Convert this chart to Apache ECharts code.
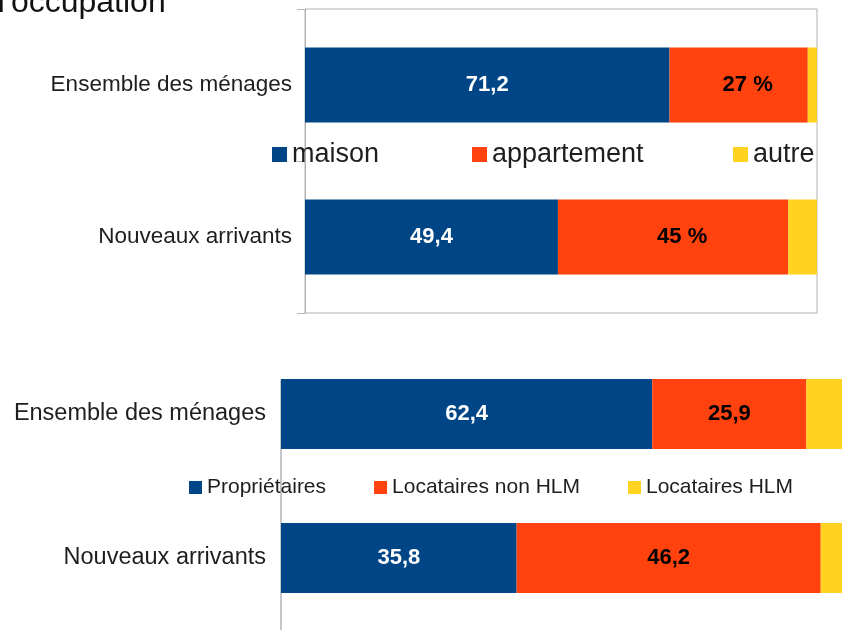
<!DOCTYPE html>
<html>
<head>
<meta charset="utf-8">
<script src="https://cdn.jsdelivr.net/npm/echarts@6/dist/echarts.min.js"></script>
<style>
html,body{margin:0;padding:0;background:#fff;}
#chart{width:842px;height:630px;}
</style>
</head>
<body>
<div id="chart"></div>
<script>
// ---- data ----
const titleText = "d'occupation";
const categories = ['Ensemble des ménages', 'Nouveaux arrivants'];

const topNames = ['maison', 'appartement', 'autre'];
const topMaison = [71.2, 49.4];
const topAppartement = [27, 45];
const topAutre = [1.8, 5.6];

const bottomNames = ['Propriétaires', 'Locataires non HLM', 'Locataires HLM'];
const bottomProprietaires = [62.4, 35.8];
const bottomNonHLM = [25.9, 46.2];
const bottomHLM = [11.7, 8.4];

// ---- styling ----
const FONT = 'Liberation Sans, Arial, sans-serif';
const C_BLUE = '#004586', C_ORANGE = '#ff420e', C_YELLOW = '#ffd320';
const GRAY = '#b3b3b3';
const TXT = '#1e1e1e';

function fmtNum(v) { return String(v).replace('.', ','); }

// bottom chart is a 100% stacked chart: normalise each bar by its total
const bottomTotals = categories.map((_, i) => bottomProprietaires[i] + bottomNonHLM[i] + bottomHLM[i]);
function norm(arr) {
  return arr.map((v, i) => ({ value: v / bottomTotals[i] * 100, raw: v }));
}

const chart = echarts.init(document.getElementById('chart'), null, { renderer: 'canvas' });

const labelBase = { show: true, position: 'inside', fontFamily: FONT, fontWeight: 'bold', fontSize: 22 };

const option = {
  animation: false,
  backgroundColor: '#ffffff',
  textStyle: { fontFamily: FONT },
  graphic: [
    { type: 'text', left: -13, top: -13, style: { text: titleText, fontSize: 32, fontFamily: FONT, fill: '#111' } }
  ],
  grid: [
    { left: 305, top: 9, width: 512, height: 304, show: true, borderColor: GRAY, borderWidth: 1, backgroundColor: 'transparent', containLabel: false, outerBoundsMode: 'none' },
    { left: 281, top: 342, width: 595, height: 288, containLabel: false, outerBoundsMode: 'none' },
    { left: 281, top: 380, width: 10, height: 260, containLabel: false, outerBoundsMode: 'none' }
  ],
  xAxis: [
    { gridIndex: 0, type: 'value', min: 0, max: 100, show: false },
    { gridIndex: 1, type: 'value', min: 0, max: 100, show: false },
    { gridIndex: 2, type: 'value', min: 0, max: 1, show: false }
  ],
  yAxis: [
    { gridIndex: 0, type: 'category', inverse: true, data: categories,
      axisLine: { show: true, lineStyle: { color: GRAY, width: 1 } },
      axisTick: { show: true, length: 8, lineStyle: { color: GRAY } },
      axisLabel: { fontSize: 22.5, color: TXT, margin: 13, fontFamily: FONT },
      splitLine: { show: false } },
    { gridIndex: 1, type: 'category', inverse: true, data: categories,
      axisLine: { show: false },
      axisTick: { show: false },
      axisLabel: { fontSize: 23.5, color: TXT, margin: 15, fontFamily: FONT },
      splitLine: { show: false } },
    { gridIndex: 2, type: 'value', min: 0, max: 1,
      axisLine: { show: true, onZero: false, lineStyle: { color: GRAY, width: 1.5 } },
      axisTick: { show: false }, axisLabel: { show: false }, splitLine: { show: false } }
  ],
  legend: [
    { data: [topNames[0]], left: 272, top: 141, icon: 'rect', itemWidth: 15, itemHeight: 15, padding: 0,
      textStyle: { fontSize: 27, color: TXT, fontFamily: FONT } },
    { data: [topNames[1]], left: 472, top: 141, icon: 'rect', itemWidth: 15, itemHeight: 15, padding: 0,
      textStyle: { fontSize: 27, color: TXT, fontFamily: FONT } },
    { data: [topNames[2]], left: 733, top: 141, icon: 'rect', itemWidth: 15, itemHeight: 15, padding: 0,
      textStyle: { fontSize: 27, color: TXT, fontFamily: FONT } },
    { data: bottomNames, left: 189, top: 477, icon: 'rect', itemWidth: 13, itemHeight: 13, itemGap: 48, padding: 0,
      textStyle: { fontSize: 21, color: TXT, fontFamily: FONT } }
  ],
  series: [
    { name: topNames[0], type: 'bar', stack: 'top', xAxisIndex: 0, yAxisIndex: 0, barWidth: 75,
      itemStyle: { color: C_BLUE }, data: topMaison,
      label: Object.assign({}, labelBase, { color: '#fff', formatter: p => fmtNum(p.value) }) },
    { name: topNames[1], type: 'bar', stack: 'top', xAxisIndex: 0, yAxisIndex: 0, barWidth: 75,
      itemStyle: { color: C_ORANGE }, data: topAppartement,
      label: Object.assign({}, labelBase, { color: '#000', offset: [9, 0], formatter: p => fmtNum(p.value) + ' %' }) },
    { name: topNames[2], type: 'bar', stack: 'top', xAxisIndex: 0, yAxisIndex: 0, barWidth: 75,
      itemStyle: { color: C_YELLOW }, data: topAutre, label: { show: false } },

    { name: bottomNames[0], type: 'bar', stack: 'bottom', xAxisIndex: 1, yAxisIndex: 1, barWidth: 70,
      itemStyle: { color: C_BLUE }, data: norm(bottomProprietaires),
      label: Object.assign({}, labelBase, { color: '#fff', formatter: p => fmtNum(p.data.raw) }) },
    { name: bottomNames[1], type: 'bar', stack: 'bottom', xAxisIndex: 1, yAxisIndex: 1, barWidth: 70,
      itemStyle: { color: C_ORANGE }, data: norm(bottomNonHLM),
      label: Object.assign({}, labelBase, { color: '#000', formatter: p => fmtNum(p.data.raw) }) },
    { name: bottomNames[2], type: 'bar', stack: 'bottom', xAxisIndex: 1, yAxisIndex: 1, barWidth: 70,
      itemStyle: { color: C_YELLOW }, data: norm(bottomHLM), label: { show: false } }
  ]
};
chart.setOption(option);
</script>
</body>
</html>
